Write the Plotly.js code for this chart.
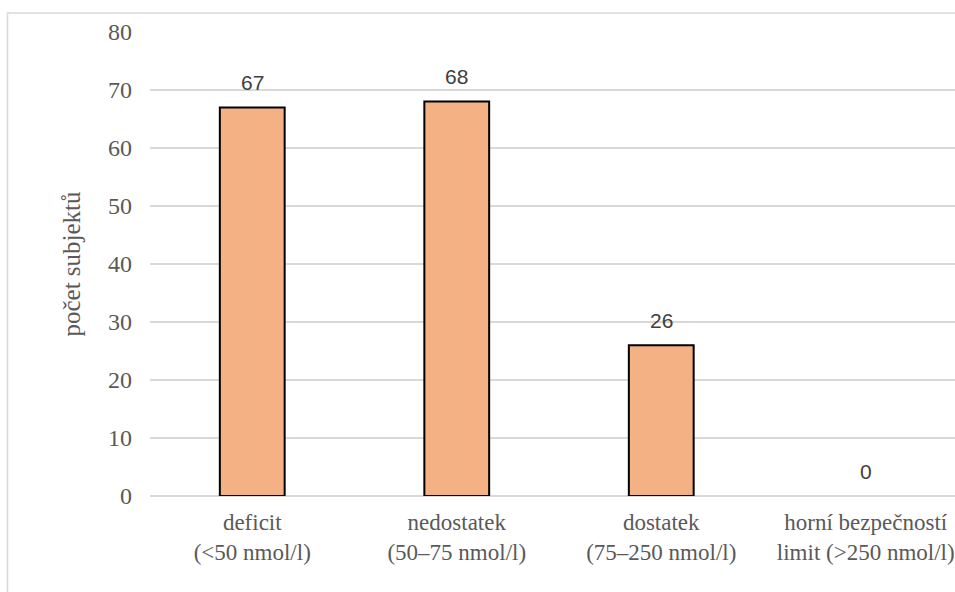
<!DOCTYPE html>
<html>
<head>
<meta charset="utf-8">
<script src="https://cdn.plot.ly/plotly-3.0.1.min.js"></script>
<style>
  html, body { margin: 0; padding: 0; overflow: hidden; background: #fff; }
  #chart { width: 980px; height: 592px; }
</style>
</head>
<body>
<div id="chart"></div>
<script>
// Vitamin D status groups and subject counts
const categories = [
  "deficit<br>(<50 nmol/l)",
  "nedostatek<br>(50–75 nmol/l)",
  "dostatek<br>(75–250 nmol/l)",
  "horní bezpečností<br>limit (>250 nmol/l)"
];
const counts = [67, 68, 26, 0];
const yTicks = [0, 10, 20, 30, 40, 50, 60, 70, 80];

const W = 980, H = 592;
const M = { l: 150, r: 12, t: 32, b: 96 };
const pw = W - M.l - M.r, ph = H - M.t - M.b;
// pixel -> paper helpers for the outer frame
const px = x => (x - M.l) / pw;
const py = y => (H - M.b - y) / ph;

const serif = "Liberation Serif, Times New Roman, serif";
const sans = "Liberation Sans, Arial, sans-serif";

const trace = {
  type: "bar",
  x: categories,
  y: counts,
  width: 0.317,
  marker: {
    color: "#F4B183",
    // an empty bar shows no outline on the baseline
    line: { color: "#000000", width: counts.map(v => (v > 0 ? 2 : 0)) }
  },
  hoverinfo: "x+y"
};

const annotations = categories.map((c, i) => ({
  x: c, y: counts[i], xref: "x", yref: "y",
  text: String(counts[i]), showarrow: false,
  yanchor: "middle", yshift: 25,
  font: { family: sans, size: 21, color: "#404040" }
}));

const layout = {
  width: W, height: H,
  margin: M,
  paper_bgcolor: "#ffffff", plot_bgcolor: "#ffffff",
  showlegend: false,
  bargap: 0,
  xaxis: {
    type: "category",
    showgrid: false, showline: false, zeroline: false, ticks: "",
    ticklabelstandoff: 10,
    tickfont: { family: serif, size: 23, color: "#595959" }
  },
  yaxis: {
    range: [0, 80], tickvals: yTicks, ticktext: yTicks.map(String),
    showgrid: true, gridcolor: "#D9D9D9", gridwidth: 1.5,
    zeroline: true, zerolinecolor: "#D9D9D9", zerolinewidth: 1.5,
    showline: false, ticks: "", ticklabelstandoff: 17,
    tickfont: { family: serif, size: 24, color: "#595959" },
    title: { text: "počet subjektů", standoff: 20,
             font: { family: serif, size: 25, color: "#595959" } }
  },
  annotations: annotations,
  shapes: [{
    type: "rect", xref: "paper", yref: "paper", layer: "below",
    x0: px(7.5), x1: px(975), y0: py(610), y1: py(13),
    line: { color: "#D9D9D9", width: 1.5 }, fillcolor: "rgba(0,0,0,0)"
  }]
};

Plotly.newPlot("chart", [trace], layout, { displayModeBar: false, staticPlot: true });
</script>
</body>
</html>
